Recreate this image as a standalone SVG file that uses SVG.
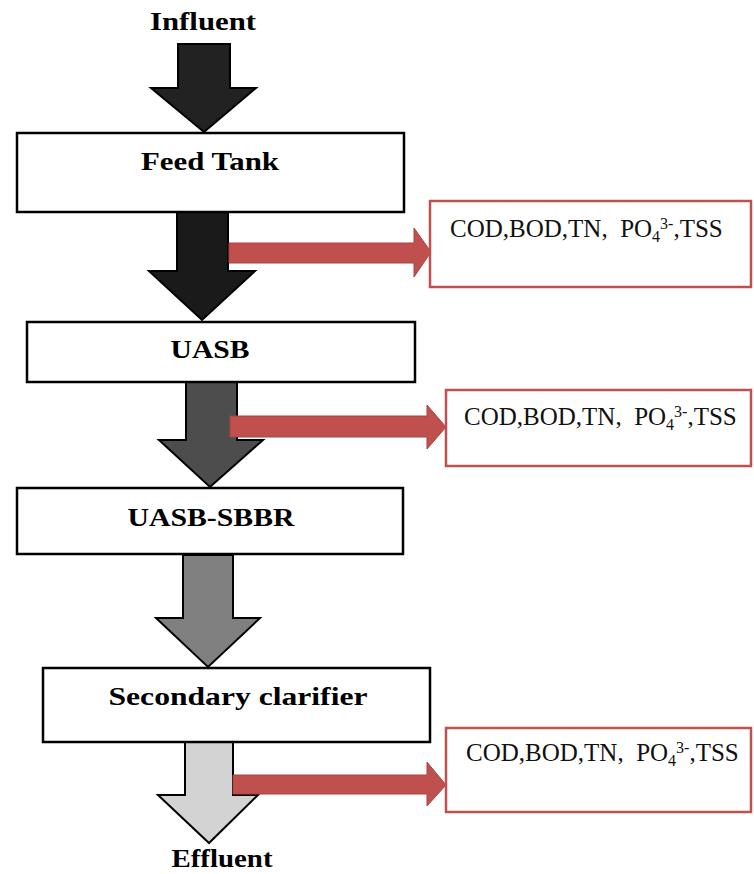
<svg xmlns="http://www.w3.org/2000/svg" width="754" height="874" viewBox="0 0 754 874">
<style>
.box{fill:#fff;stroke:#000;stroke-width:2.5}
.rbox{fill:#fff;stroke:#c0504d;stroke-width:2.5}
.lbl{font-family:"Liberation Serif","Times New Roman",serif;font-weight:bold;font-size:26px;fill:#000;text-anchor:middle}
.par{font-family:"Liberation Serif","Times New Roman",serif;font-size:25px;fill:#111}
.sm{font-size:16px}
.flow{stroke:#000;stroke-width:2;stroke-linejoin:miter}
.red{fill:#c0504d;stroke:#a84442;stroke-width:1}
</style>
<rect width="754" height="874" fill="#fff"/>
<g id="connectors">
  <path class="flow" fill="#222" d="M178,44 H230 V88 H256 L204,132 L151,88 H178 Z"/>
  <path class="flow" fill="#1a1a1a" d="M177,212 H228 V271 H255 L202,320 L149,271 H177 Z"/>
  <path class="flow" fill="#4d4d4d" d="M186,382 H237 V440 H263 L210,487 L159,440 H186 Z"/>
  <path class="flow" fill="#808080" d="M183,555 H233 V618 H260 L208,667 L156,618 H183 Z"/>
  <path class="flow" fill="#d3d3d3" d="M185,742 H233 V795 H258 L209,843 L158,795 H185 Z"/>
  <path class="red" d="M229,243 H414 V228 L431,252 L414,277 V263 H229 Z"/>
  <path class="red" d="M230,416 H427 V405 L446,427 L427,449 V437 H230 Z"/>
  <path class="red" d="M233,775 H427 V762 L446,785 L427,806 V794 H233 Z"/>
</g>
<g id="influent">
  <text class="lbl" x="203" y="30" textLength="106" lengthAdjust="spacingAndGlyphs">Influent</text>
</g>
<g id="feed-tank">
  <rect class="box" x="17" y="133" width="387" height="79"/>
  <text class="lbl" x="210" y="170" textLength="138" lengthAdjust="spacingAndGlyphs">Feed Tank</text>
</g>
<g id="uasb">
  <rect class="box" x="27" y="322" width="388" height="60"/>
  <text class="lbl" x="210" y="358" textLength="79" lengthAdjust="spacingAndGlyphs">UASB</text>
</g>
<g id="uasb-sbbr">
  <rect class="box" x="17" y="488" width="386" height="66"/>
  <text class="lbl" x="211" y="526" textLength="167" lengthAdjust="spacingAndGlyphs">UASB-SBBR</text>
</g>
<g id="secondary-clarifier">
  <rect class="box" x="43" y="668" width="387" height="74"/>
  <text class="lbl" x="238" y="705" textLength="259" lengthAdjust="spacingAndGlyphs">Secondary clarifier</text>
</g>
<g id="effluent">
  <text class="lbl" x="222" y="867" textLength="101" lengthAdjust="spacingAndGlyphs">Effluent</text>
</g>
<g id="params-1">
  <rect class="rbox" x="430" y="201" width="321" height="86"/>
  <text class="par" x="450" y="237" xml:space="preserve">COD,BOD,TN,  PO<tspan class="sm" dy="5">4</tspan><tspan class="sm" dy="-13">3-</tspan><tspan dy="8">,TSS</tspan></text>
</g>
<g id="params-2">
  <rect class="rbox" x="446" y="390" width="305" height="76"/>
  <text class="par" x="464" y="425" xml:space="preserve">COD,BOD,TN,  PO<tspan class="sm" dy="5">4</tspan><tspan class="sm" dy="-13">3-</tspan><tspan dy="8">,TSS</tspan></text>
</g>
<g id="params-3">
  <rect class="rbox" x="446" y="728" width="305" height="84"/>
  <text class="par" x="466" y="761" xml:space="preserve">COD,BOD,TN,  PO<tspan class="sm" dy="5">4</tspan><tspan class="sm" dy="-13">3-</tspan><tspan dy="8">,TSS</tspan></text>
</g>
</svg>
